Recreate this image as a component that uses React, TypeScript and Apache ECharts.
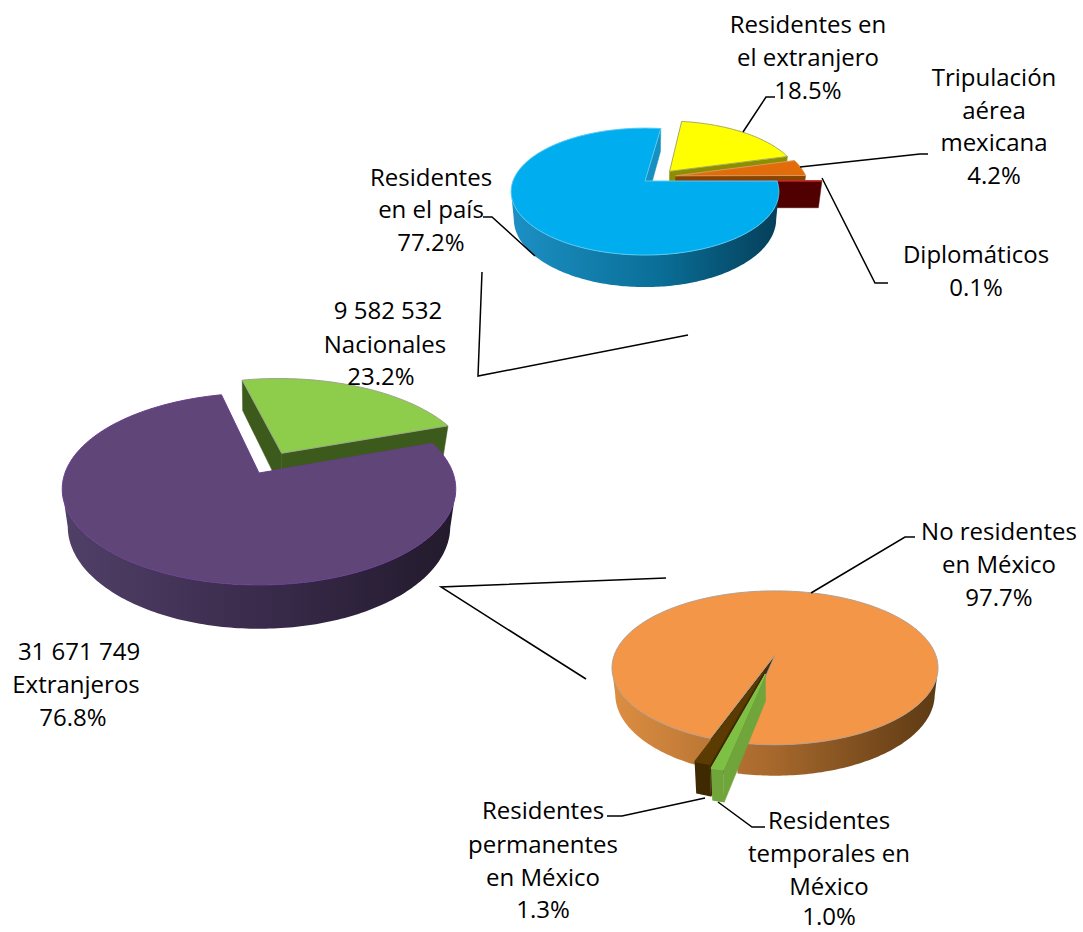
import React, { useEffect, useRef } from "react";
import * as echarts from "echarts";

// ---------- data ----------
const mainNames = ["Nacionales", "Extranjeros"];
const mainValues = [23.2, 76.8];
const mainCounts = ["9 582 532", "31 671 749"];

const nationalNames = ["Residentes en el extranjero", "Tripulación aérea mexicana", "Diplomáticos", "Residentes en el país"];
const nationalValues = [18.5, 4.2, 0.1, 77.2];

const foreignNames = ["Residentes temporales en México", "Residentes permanentes en México", "No residentes en México"];
const foreignValues = [1.0, 1.3, 97.7];

// ---------- pie styling / geometry ----------
type Pie = {
  name: string; names: string[]; values: number[];
  cx: number; cy: number; sx: number; sy: number; k: number; depth: number; bottomScale: number; start: number;
  explode: number[]; explodeDir: (number | null)[]; paint: number[];
  top: string[]; border: string[]; inner: string[]; wall: [number, string][][];
  bounds: [number, number];
};

const K = 1 / 6;
const pies: Pie[] = [
  {
    name: "Total", names: mainNames, values: mainValues,
    cx: 259, cy: 473, sx: 194, sy: 93.3, k: K, depth: 36.5, bottomScale: 0.972, start: -13,
    explode: [0.25, 0], explodeDir: [29, null], paint: [0, 1],
    top: ["#8ecc4c", "#5f4578"], border: ["#9aa58a", "#6a3d90"], inner: ["#3c5a1c", "#3c2c4e"],
    wall: [[[0, "#3c5a1c"], [1, "#3c5a1c"]], [[0, "#504068"], [0.5, "#3a2b4c"], [1, "#221a2c"]]],
    bounds: [61, 456],
  },
  {
    name: "Nacionales", names: nationalNames, values: nationalValues,
    cx: 645, cy: 181, sx: 132, sy: 61.7, k: K, depth: 26.7, bottomScale: 0.98, start: 8,
    explode: [0.25, 0.25, 0.34, 0], explodeDir: [50, 70, null, null], paint: [0, 1, 2, 3],
    top: ["#ffff00", "#e36c0a", "#8c0f0a", "#00aeef"], border: ["#a8a860", "#d89a60", "#c8302a", "#58c8f0"],
    inner: ["#8c8f00", "#8a4400", "#500000", "#1590c0"],
    wall: [[[0, "#8c8f00"], [1, "#8c8f00"]], [[0, "#8a4400"], [1, "#8a4400"]], [[0, "#500000"], [1, "#500000"]],
      [[0, "#1c90c4"], [0.55, "#0a6f98"], [1, "#053f5a"]]],
    bounds: [510, 778],
  },
  {
    name: "Extranjeros", names: foreignNames, values: foreignValues,
    cx: 775, cy: 655, sx: 160.7, sy: 74.8, k: K, depth: 25.8, bottomScale: 0.98, start: 191.5,
    explode: [0.25, 0.22, 0], explodeDir: [null, null, null], paint: [2, 1, 0],
    top: ["#7ec044", "#5c3b02", "#f49648"], border: ["#86c64c", "#5c3b02", "#b0a090"],
    inner: ["#6fa53a", "#3e2900", "#4a2e0a"],
    wall: [[[0, "#6fa53a"], [1, "#6fa53a"]], [[0, "#3e2900"], [1, "#3e2900"]],
      [[0, "#dc8e42"], [0.5, "#a5672c"], [1, "#5c3913"]]],
    bounds: [613, 939],
  },
];

function project(p: Pie, u: number, v: number, low: boolean): number[] {
  const q = 1 / (1 - p.k * v);
  const s = low ? p.bottomScale : 1;
  return [p.cx + p.sx * u * q * s, p.cy + p.sy * v * q + (low ? p.depth * q : 0)];
}
const rad = (d: number) => (d * Math.PI) / 180;

function sliceShapes(p: Pie, i: number) {
  const sum = p.values.reduce((a, b) => a + b, 0);
  let a0 = p.start;
  for (let j = 0; j < i; j++) a0 += (p.values[j] / sum) * 360;
  const a1 = a0 + (p.values[i] / sum) * 360;
  const dir = p.explodeDir[i] ?? (a0 + a1) / 2;
  const ox = Math.sin(rad(dir)) * p.explode[i];
  const oy = -Math.cos(rad(dir)) * p.explode[i];
  const disc = (a: number, r = 1): [number, number] => [ox + r * Math.sin(rad(a)), oy - r * Math.cos(rad(a))];

  const angles: number[] = [];
  const n = Math.max(2, Math.ceil(a1 - a0));
  for (let j = 0; j <= n; j++) angles.push(a0 + ((a1 - a0) * j) / n);

  const children: any[] = [];
  const A = project(p, ox, oy, false);
  const Ab = project(p, ox, oy, true);

  // straight cut walls
  const cut = (edge: number, inward: number) => {
    const [ru, rv] = disc(edge);
    const R = project(p, ru, rv, false);
    const Rb = project(p, ru, rv, true);
    const [tu, tv] = disc(edge + inward, 0.5);
    const T = project(p, tu, tv, false);
    const ex = R[0] - A[0], ey = R[1] - A[1];
    const side = ex * (T[1] - A[1]) - ey * (T[0] - A[0]);
    if (side * ex < 0) {
      children.push({
        type: "polygon", silent: true,
        shape: { points: [A, R, Rb, Ab] },
        style: { fill: p.inner[i], stroke: p.inner[i], lineWidth: 0.5 },
      });
    }
  };
  const tiny = Math.min(1, (a1 - a0) / 2);
  cut(a0, tiny);
  cut(a1, -tiny);

  // outer curved wall: only what faces the viewer
  let run: number[] = [];
  const flush = () => {
    if (run.length > 1) {
      const up = run.map((a) => { const [u, v] = disc(a); return project(p, u, v, false); });
      const lo = run.map((a) => { const [u, v] = disc(a); return project(p, u, v, true); }).reverse();
      children.push({
        type: "polygon", silent: true,
        shape: { points: up.concat(lo) },
        style: {
          fill: new echarts.graphic.LinearGradient(p.bounds[0], 0, p.bounds[1], 0,
            p.wall[i].map(([offset, color]) => ({ offset, color })), true),
        },
      });
    }
    run = [];
  };
  for (const a of angles) {
    if (-Math.cos(rad(a)) >= p.k) run.push(a);
    else flush();
  }
  flush();

  // top face
  const topPts = [A, ...angles.map((a) => { const [u, v] = disc(a); return project(p, u, v, false); })];
  children.push({
    type: "polygon", silent: true,
    shape: { points: topPts },
    style: { fill: p.top[i], stroke: p.border[i], lineWidth: 1, lineJoin: "round" },
  });
  return children;
}

// ---------- labels ----------
const pct = (v: number) => `${v.toFixed(1)}%`;
const labelFont = { fontFamily: "'Open Sans'", fontSize: 24, lineHeight: 22, fill: "#000" };

const labelLines: [string, number, number][] = [
  ["Residentes en", 808, 23], ["el extranjero", 808, 56], [pct(nationalValues[0]), 808, 89],
  ["Tripulación", 994, 76], ["aérea", 994, 109], ["mexicana", 994, 141], [pct(nationalValues[1]), 994, 174],
  [nationalNames[2], 976, 253], [pct(nationalValues[2]), 976, 286],
  ["Residentes", 431, 176], ["en el país", 431, 208], [pct(nationalValues[3]), 431, 241],
  [mainCounts[0], 388, 309], [mainNames[0], 385, 343], [pct(mainValues[0]), 381, 375],
  [mainCounts[1], 79, 650], [mainNames[1], 76, 683], [pct(mainValues[1]), 73, 716],
  ["No residentes", 999, 530], ["en México", 999, 563], [pct(foreignValues[2]), 999, 596],
  ["Residentes", 543, 809], ["permanentes", 543, 843], ["en México", 543, 876], [pct(foreignValues[1]), 543, 908],
  ["Residentes", 829, 819], ["temporales en", 829, 852], ["México", 829, 885], [pct(foreignValues[0]), 829, 915],
];

const leaderLines: number[][][] = [
  [[743, 132], [766, 97], [775, 97]],
  [[800, 167], [920, 154], [928, 154]],
  [[822, 178], [875, 283], [888, 283]],
  [[535, 256], [492, 217], [483, 217]],
  [[811, 593], [905, 537], [915, 537]],
  [[705, 798], [622, 816], [607, 816]],
  [[718, 802], [752, 827], [765, 827]],
  [[482, 272], [478, 376], [688, 335]],
  [[666, 578], [441, 587], [586, 679]],
];

export default function App() {
  const ref = useRef<HTMLDivElement>(null);
  useEffect(() => {
    document.body.style.margin = "0";
    const chart = echarts.init(ref.current!, null, { renderer: "svg" });
    chart.setOption({
      animation: false,
      backgroundColor: "#fff",
      series: pies.map((p) => ({
        type: "custom",
        name: p.name,
        coordinateSystem: "none",
        silent: true,
        data: p.paint.map((i) => ({ name: p.names[i], value: [p.values[i]] })),
        renderItem: (params: any) => ({
          type: "group",
          children: sliceShapes(p, p.paint[params.dataIndex]),
        }),
      })),
      graphic: [
        ...leaderLines.map((points) => ({
          type: "polyline", z: 50, silent: true,
          shape: { points },
          style: { stroke: "#000", lineWidth: 1.5, fill: "none" },
        })),
        ...labelLines.map(([text, x, y]) => ({
          type: "text", z: 60, silent: true, x, y,
          style: { text, align: "center", verticalAlign: "middle", ...labelFont },
        })),
      ],
    });
    return () => chart.dispose();
  }, []);
  return <div ref={ref} style={{ width: 1083, height: 932 }} />;
}
